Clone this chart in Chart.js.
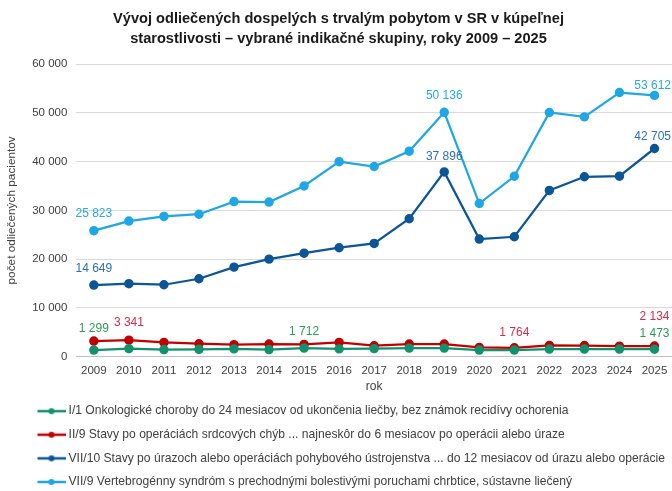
<!DOCTYPE html>
<html lang="sk">
<head>
<meta charset="utf-8">
<script src="https://cdn.jsdelivr.net/npm/chart.js@4/dist/chart.umd.min.js"></script>
<style>
  html, body { margin: 0; padding: 0; background: #fff; }
  #wrap { width: 672px; height: 491px; position: relative; }
</style>
</head>
<body>
<div id="wrap"><canvas id="kupele"></canvas></div>
<script>
// roky na osi x
const years = ['2009', '2010', '2011', '2012', '2013', '2014', '2015', '2016', '2017',
               '2018', '2019', '2020', '2021', '2022', '2023', '2024', '2025'];

// I/1 onkologické choroby
const onko = [1299, 1600, 1400, 1450, 1550, 1400, 1712, 1550, 1600, 1700, 1700, 1300, 1300, 1500, 1500, 1500, 1473];
// II/9 stavy po operáciách srdcových chýb
const srdce = [3150, 3341, 2870, 2600, 2400, 2530, 2460, 2870, 2190, 2530, 2530, 1850, 1764, 2260, 2220, 2100, 2134];
// VII/10 stavy po úrazoch a operáciách pohybového ústrojenstva
const uraz = [14649, 14930, 14720, 15950, 18340, 19980, 21200, 22320, 23200, 28270, 37896, 24100, 24570, 34090, 36900, 37020, 42705];
// VII/9 vertebrogénny syndróm
const chrbat = [25823, 27800, 28750, 29200, 31800, 31700, 35000, 40000, 39000, 42150, 50136, 31400, 37000, 50100, 49200, 54200, 53612];

// ktoré body majú popisok hodnoty
const labelsOnko = [0, 6, 16];
const labelsSrdce = [1, 12, 16];
const labelsUraz = [0, 10, 16];
const labelsChrbat = [0, 10, 16];

const yTicks = [0, 10000, 20000, 30000, 40000, 50000, 60000];

const seriesNames = [
    'I/1 Onkologické choroby do 24 mesiacov od ukončenia liečby, bez známok recidívy ochorenia',
    'II/9 Stavy po operáciách srdcových chýb ... najneskôr do 6 mesiacov po operácii alebo úraze',
    'VII/10 Stavy po úrazoch alebo operáciách pohybového ústrojenstva ... do 12 mesiacov od úrazu alebo operácie',
    'VII/9 Vertebrogénny syndróm s prechodnými bolestivými poruchami chrbtice, sústavne liečený'
];

// formát s medzerou medzi tisíckami
function fmt(n) {
    return String(n).replace(/\B(?=(\d{3})+(?!\d))/g, ' ');
}

const FONT = 'Arial, "Liberation Sans", sans-serif';

// značka do legendy: čiara s bodkou
function legendMark(color) {
    const c = document.createElement('canvas');
    c.width = 52;
    c.height = 10;
    const g = c.getContext('2d');
    g.strokeStyle = color;
    g.lineWidth = 2.5;
    g.beginPath();
    g.moveTo(24, 5);
    g.lineTo(52, 5);
    g.stroke();
    g.fillStyle = color;
    g.beginPath();
    g.arc(38, 5, 3, 0, Math.PI * 2);
    g.fill();
    return c;
}

function series(label, data, color, textColor, idx, offsets) {
    return {
        label: label,
        data: data,
        borderColor: color,
        backgroundColor: color,
        borderWidth: 2.25,
        pointRadius: 3.6,
        pointHoverRadius: 3.6,
        tension: 0,
        valueLabels: { idx: idx, color: textColor, dy: offsets }
    };
}

// popisky hodnôt nad vybranými bodmi
const valueLabelPlugin = {
    id: 'valueLabels',
    afterDatasetsDraw(chart) {
        const ctx = chart.ctx;
        ctx.save();
        ctx.font = '12px ' + FONT;
        ctx.textBaseline = 'middle';
        chart.data.datasets.forEach((ds, di) => {
            const cfg = ds.valueLabels;
            const meta = chart.getDatasetMeta(di);
            cfg.idx.forEach((i, k) => {
                const pt = meta.data[i];
                const txt = fmt(ds.data[i]);
                const w = ctx.measureText(txt).width;
                let x = pt.x - w / 2;
                if (x + w > chart.width - 1) x = chart.width - 1 - w;
                ctx.fillStyle = cfg.color;
                ctx.textAlign = 'left';
                ctx.fillText(txt, x, pt.y - cfg.dy[k]);
            });
        });
        ctx.restore();
    }
};

document.addEventListener('DOMContentLoaded', () => {
    const el = document.getElementById('kupele');

    new Chart(el, {
        type: 'line',
        data: {
            labels: years,
            datasets: [
                series(seriesNames[0], onko, '#12916d', '#2e9a5a', labelsOnko, [21, 16, 16]),
                series(seriesNames[1], srdce, '#c00000', '#d62d4e', labelsSrdce, [17, 15, 29]),
                series(seriesNames[2], uraz, '#0c5597', '#2f6eb0', labelsUraz, [16, 15, 12]),
                series(seriesNames[3], chrbat, '#1ea7e4', '#29a9e0', labelsChrbat, [17, 17, 10])
            ]
        },
        options: {
            responsive: true,
            maintainAspectRatio: false,
            animation: false,
            layout: { autoPadding: false, padding: { left: 5, right: 0, top: 0, bottom: -7 } },
            plugins: {
                title: {
                    display: true,
                    text: ['Vývoj odliečených dospelých s trvalým pobytom v SR v kúpeľnej',
                           'starostlivosti – vybrané indikačné skupiny, roky 2009 – 2025'],
                    color: '#1a1a1a',
                    font: { family: FONT, size: 14.6, weight: 'bold', lineHeight: 1.38 },
                    padding: { top: 9, bottom: 15 }
                },
                legend: {
                    position: 'bottom',
                    align: 'start',
                    labels: {
                        usePointStyle: true,
                        pointStyleWidth: 46,
                        padding: 11.5,
                        color: '#404040',
                        font: { family: FONT, size: 12.1 },
                        generateLabels(chart) {
                            const items = Chart.defaults.plugins.legend.labels.generateLabels(chart);
                            return items.map(it => {
                                it.pointStyle = legendMark(chart.data.datasets[it.datasetIndex].borderColor);
                                return it;
                            });
                        }
                    }
                },
                tooltip: { enabled: false }
            },
            scales: {
                x: {
                    offset: true,
                    grid: { display: false },
                    border: { color: '#bfbfbf' },
                    ticks: { color: '#404040', padding: 0, font: { family: FONT, size: 11.5 }, maxRotation: 0 },
                    title: { display: true, text: 'rok', color: '#404040', font: { family: FONT, size: 12 }, padding: { top: 1, bottom: 0 } }
                },
                y: {
                    min: 0,
                    max: 60000,
                    afterBuildTicks(scale) {
                        scale.ticks = yTicks.map(v => ({ value: v }));
                    },
                    grid: { color: '#d9d9d9', drawTicks: false },
                    border: { display: false },
                    ticks: {
                        color: '#404040',
                        padding: 9,
                        font: { family: FONT, size: 11.5 },
                        callback: v => fmt(v)
                    },
                    title: { display: true, text: 'počet odliečených pacientov', color: '#404040', font: { family: FONT, size: 11.8 }, padding: { top: 0, bottom: 4 } }
                }
            }
        },
        plugins: [valueLabelPlugin]
    });
});
</script>
</body>
</html>
